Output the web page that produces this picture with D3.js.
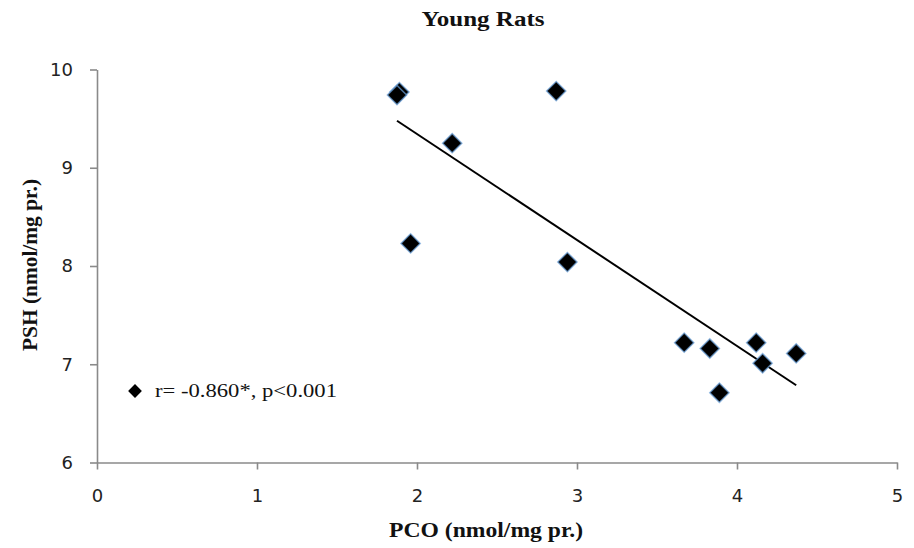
<!DOCTYPE html>
<html>
<head>
<meta charset="utf-8">
<script src="https://cdn.jsdelivr.net/npm/d3@7"></script>
<style>
  body { margin: 0; background: #fff; }
  .axis path, .axis line { stroke: #8a8a8a; stroke-width: 1.6; }
  .axis text { font-family: "DejaVu Sans", Verdana, sans-serif; font-size: 18px; fill: #222; }
  .serif { font-family: "Liberation Serif", "Times New Roman", serif; fill: #111; }
</style>
</head>
<body>
<svg width="914" height="548"></svg>
<script>
// values
var pco = [1.89, 1.875, 2.87, 2.22, 1.96, 2.94, 3.67, 3.83, 4.12, 4.16, 3.89, 4.37];
var psh = [9.77, 9.74, 9.78, 9.25, 8.23, 8.04, 7.22, 7.16, 7.22, 7.01, 6.71, 7.11];
var xTicks = [0, 1, 2, 3, 4, 5];
var yTicks = [6, 7, 8, 9, 10];
var legendText = "r= -0.860*, p<0.001";

var svg = d3.select("svg"),
    margin = {top: 69.5, right: 17, bottom: 85.5, left: 97},
    width = +svg.attr("width") - margin.left - margin.right,
    height = +svg.attr("height") - margin.top - margin.bottom;

svg.append("rect").attr("width", 914).attr("height", 548).attr("fill", "#fff");

var x = d3.scaleLinear().domain([0, 5]).range([0, width]);
var y = d3.scaleLinear().domain([6, 10]).range([height, 0]);

var g = svg.append("g")
    .attr("transform", "translate(" + margin.left + "," + margin.top + ")");

g.append("g")
    .attr("class", "axis")
    .attr("transform", "translate(0," + height + ")")
    .call(d3.axisBottom(x).tickValues(xTicks).tickFormat(d3.format("d"))
      .tickSize(7).tickSizeOuter(0).tickPadding(19.5));

g.append("g")
    .attr("class", "axis")
    .call(d3.axisLeft(y).tickValues(yTicks).tickFormat(d3.format("d"))
      .tickSize(7).tickSizeOuter(0).tickPadding(17));

// least squares trend line
var data = pco.map(function(d, i) { return {x: d, y: psh[i]}; });
var mx = d3.mean(pco), my = d3.mean(psh);
var sxy = d3.sum(data, function(d) { return (d.x - mx) * (d.y - my); });
var sxx = d3.sum(data, function(d) { return (d.x - mx) * (d.x - mx); });
var slope = sxy / sxx, icpt = my - slope * mx;
var ext = d3.extent(pco);

g.append("line")
    .attr("x1", x(ext[0])).attr("y1", y(icpt + slope * ext[0]))
    .attr("x2", x(ext[1])).attr("y2", y(icpt + slope * ext[1]))
    .attr("stroke", "#000")
    .attr("stroke-width", 2);

var diamond = d3.symbol().type(d3.symbolSquare).size(185);

g.selectAll(".pt")
  .data(data)
  .enter().append("path")
    .attr("class", "pt")
    .attr("d", diamond)
    .attr("transform", function(d) { return "translate(" + x(d.x) + "," + y(d.y) + ") rotate(45)"; })
    .attr("fill", "#000")
    .attr("stroke", "#6a9fd8")
    .attr("stroke-opacity", 0.7)
    .attr("stroke-width", 1.5);

// legend
svg.append("path")
    .attr("d", d3.symbol().type(d3.symbolSquare).size(95))
    .attr("transform", "translate(135,391) rotate(45)")
    .attr("fill", "#000");

svg.append("text")
    .attr("class", "serif")
    .attr("x", 155).attr("y", 397)
    .attr("textLength", 182).attr("lengthAdjust", "spacingAndGlyphs")
    .style("font-size", "18px")
    .text(legendText);

svg.append("text")
    .attr("class", "serif")
    .attr("x", 483).attr("y", 26)
    .attr("textLength", 123).attr("lengthAdjust", "spacingAndGlyphs")
    .style("text-anchor", "middle")
    .style("font-size", "20px")
    .style("font-weight", "bold")
    .text("Young Rats");

svg.append("text")
    .attr("class", "serif")
    .attr("x", 486).attr("y", 537)
    .attr("textLength", 194).attr("lengthAdjust", "spacingAndGlyphs")
    .style("text-anchor", "middle")
    .style("font-size", "20px")
    .style("font-weight", "bold")
    .text("PCO (nmol/mg pr.)");

svg.append("text")
    .attr("class", "serif")
    .attr("transform", "translate(37,265) rotate(-90)")
    .attr("textLength", 172).attr("lengthAdjust", "spacingAndGlyphs")
    .style("text-anchor", "middle")
    .style("font-size", "20px")
    .style("font-weight", "bold")
    .text("PSH (nmol/mg pr.)");
</script>
</body>
</html>
